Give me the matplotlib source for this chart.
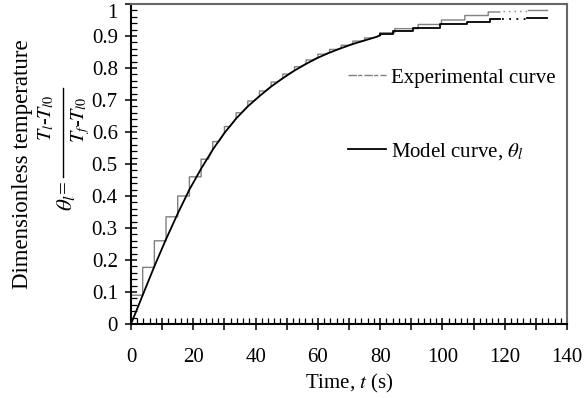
import matplotlib
matplotlib.use("Agg")
import matplotlib.pyplot as plt
from matplotlib.lines import Line2D
from matplotlib.ticker import MultipleLocator

plt.rcParams['font.family'] = ['Liberation Serif', 'DejaVu Serif']
plt.rcParams['mathtext.fontset'] = 'stix'

# ---- data ----
# experimental curve, vertices of the recorded trace (staircase with jogs)
exp_t = [0, 0, 3.75, 3.75, 7.5, 7.5, 11.25, 11.25, 15, 15, 18.75, 18.75, 22.5,
         22.5, 22.5, 24.8, 26.25, 26.25, 28.3, 30, 30, 31.8, 33.75, 33.75, 35.5,
         37.5, 37.5, 39.3, 41.25, 41.25, 43.1, 45, 45, 46.8, 48.75, 48.75, 50.5,
         52.5, 52.5, 54.3, 56.25, 56.25, 58.2, 60, 60, 62.0, 63.75, 63.75, 66.0,
         67.5, 67.5, 69.8, 71.25, 71.25, 73.7, 75, 75, 77.5, 78.75,
         79.9, 79.9, 84.7, 84.7, 92.2, 92.2, 99.7, 99.7, 107.2, 107.2, 114.7,
         114.7, 118.4]
exp_theta = [0, 0.09, 0.09, 0.177, 0.177, 0.26, 0.26, 0.335, 0.335, 0.40, 0.40,
             0.46, 0.46,
             0.485, 0.515, 0.515, 0.545, 0.57, 0.57, 0.597, 0.617, 0.617, 0.642,
             0.66, 0.66, 0.68, 0.697, 0.697, 0.712, 0.728, 0.728, 0.742, 0.756,
             0.756, 0.768, 0.781, 0.781, 0.792, 0.804, 0.804, 0.813, 0.825,
             0.825, 0.832, 0.843, 0.843, 0.848, 0.858, 0.858, 0.862, 0.871,
             0.871, 0.875, 0.884, 0.884, 0.886, 0.894, 0.894, 0.897,
             0.903, 0.910, 0.910, 0.923, 0.923, 0.936, 0.936, 0.950, 0.950,
             0.964, 0.964, 0.975, 0.975]
exp_gap_t = [119.5, 127.4]
exp_gap_theta = [0.977, 0.977]
exp_end_t = [127.4, 133.6]
exp_end_theta = [0.980, 0.980]

# model curve
model_t = [0, 3.75, 7.5, 11.25, 15, 18.75, 22.5, 26.25, 30, 33.75, 37.5, 41.25,
           45, 48.75, 52.5, 56.25, 60, 63.75, 67.5, 71.25, 75, 78.75, 80]
model_theta = [0, 0.09, 0.18, 0.265, 0.345, 0.42, 0.485, 0.545, 0.597, 0.642,
               0.68, 0.712, 0.742, 0.768, 0.792, 0.813, 0.832, 0.848, 0.862,
               0.875, 0.886, 0.897, 0.902]
model_tail_t = [80, 84.2, 90.7, 99.3, 107.8, 115.3, 118.5]
model_tail_theta = [0.907, 0.915, 0.926, 0.938, 0.944, 0.952, 0.952]
model_gap_t = [119.0, 127.1]
model_gap_theta = [0.954, 0.954]
model_end_t = [127.1, 133.5]
model_end_theta = [0.957, 0.957]

xticks = [0, 20, 40, 60, 80, 100, 120, 140]
yticks = [0, 0.1, 0.2, 0.3, 0.4, 0.5, 0.6, 0.7, 0.8, 0.9, 1]
ytick_labels = ['0', '0.1', '0.2', '0.3', '0.4', '0.5', '0.6', '0.7', '0.8', '0.9', '1']

grey = '#808080'
fs = 15

W, H = 588, 398
fig = plt.figure(figsize=(W / 100, H / 100), dpi=100)
ax_left, ax_right, ax_top, ax_bottom = 131, 567, 4, 324
ax = fig.add_axes([ax_left / W, 1 - ax_bottom / H,
                   (ax_right - ax_left) / W, (ax_bottom - ax_top) / H])

ax.plot(exp_t, exp_theta, color=grey, lw=1.0)
ax.plot(exp_gap_t, exp_gap_theta, color=grey, lw=1.0, ls=(0, (1, 3)))
ax.plot(exp_end_t, exp_end_theta, color=grey, lw=1.0)

ax.plot(model_t, model_theta, color='black', lw=1.3)
ax.plot(model_tail_t, model_tail_theta, color='black', lw=1.3, drawstyle='steps-post')
ax.plot(model_gap_t, model_gap_theta, color='black', lw=1.3, ls=(0, (1, 3)))
ax.plot(model_end_t, model_end_theta, color='black', lw=1.3)

ax.set_xlim(0, 140)
ax.set_ylim(0, 1)

# x ticks: majors every 10 (labels every 20), minors every 2
ax.set_xticks(list(range(0, 141, 10)))
ax.set_xticklabels([str(v) if v in xticks else '' for v in range(0, 141, 10)])
ax.xaxis.set_minor_locator(MultipleLocator(2))
ax.set_yticks(yticks)
ax.set_yticklabels(ytick_labels)
ax.yaxis.set_minor_locator(MultipleLocator(0.02))

ax.tick_params(axis='both', which='major', direction='inout', length=9, width=1.1,
               labelsize=fs, color='black')
ax.tick_params(axis='both', which='minor', direction='in', length=4.5, width=0.9)
ax.tick_params(axis='x', which='major', pad=13)
ax.tick_params(axis='y', which='major', pad=5)
# top label "1" sits just below the top edge, as in the reference
ax.get_yticklabels()[-1].set_va('top')

for s in ['left', 'bottom']:
    ax.spines[s].set_linewidth(1.5)
    ax.spines[s].set_color('black')
for s in ['top', 'right']:
    ax.spines[s].set_linewidth(1.5)
    ax.spines[s].set_color('#666666')

ax.set_xlabel(r'Time, $t$ (s)', fontsize=fs, labelpad=3)


def fx(px):
    return px / W


def fy(py):
    return 1 - py / H


fig.text(fx(23), fy(164), 'Dimensionless temperature', rotation=90, fontsize=16.5,
         ha='center', va='center')
# theta_l = (T_l - T_l0) / (T_f - T_l0), written rotated
fig.text(fx(46), fy(118), r'$T_l$-$T_{l0}$', rotation=90, fontsize=14.5,
         ha='center', va='center')
fig.text(fx(81), fy(120), r'$T_f$-$T_{l0}$', rotation=90, fontsize=14.5,
         ha='center', va='center')
fig.add_artist(Line2D([fx(63), fx(63)], [fy(88), fy(177)], color='black', lw=1.0,
                      transform=fig.transFigure))
fig.text(fx(66), fy(196), r'$\theta_l$=', rotation=90, fontsize=16.5,
         ha='center', va='center')

handles = [Line2D([], [], color=grey, lw=1.0, ls=(0, (6, 1, 3, 1.5))),
           Line2D([], [], color='black', lw=1.3)]
labels = ['Experimental curve', r'Model curve, $\theta_l$']
ax.legend(handles, labels, loc='upper left',
          bbox_to_anchor=((348 - ax_left) / (ax_right - ax_left),
                          (ax_bottom - 68) / (ax_bottom - ax_top)),
          frameon=False, fontsize=fs, handlelength=1.8, handletextpad=0.25,
          labelspacing=2.55, borderpad=0, borderaxespad=0)

fig.savefig('out.png', dpi=100)
